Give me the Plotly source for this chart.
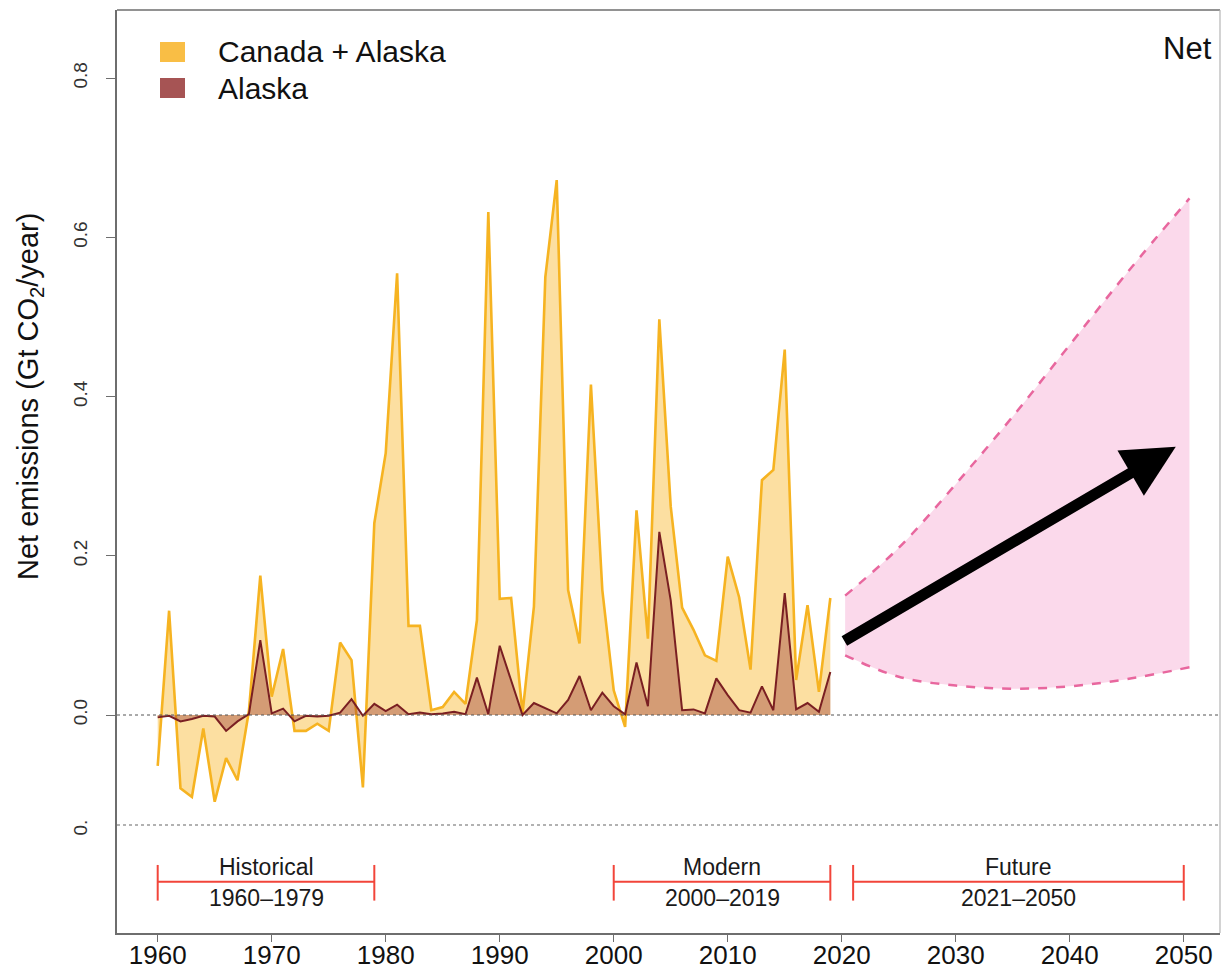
import plotly.graph_objects as go

# ---- annual net emissions, Gt CO2 / year ----
years = list(range(1960, 2020))
canada_alaska = [
    -0.064, 0.131, -0.092, -0.103, -0.017, -0.109, -0.054, -0.082, 0.005, 0.175,
    0.023, 0.083, -0.020, -0.020, -0.011, -0.020, 0.091, 0.069, -0.091, 0.241,
    0.329, 0.555, 0.112, 0.112, 0.006, 0.010, 0.029, 0.014, 0.119, 0.632,
    0.146, 0.147, 0.002, 0.136, 0.550, 0.672, 0.157, 0.090, 0.415, 0.157,
    0.031, -0.015, 0.257, 0.096, 0.497, 0.262, 0.135, 0.107, 0.075, 0.068,
    0.199, 0.148, 0.057, 0.295, 0.308, 0.459, 0.044, 0.138, 0.029, 0.147,
]
alaska = [
    -0.003, -0.001, -0.008, -0.005, -0.001, -0.002, -0.020, -0.008, 0.001, 0.094,
    0.002, 0.008, -0.008, -0.001, -0.002, -0.001, 0.003, 0.020, -0.001, 0.014,
    0.005, 0.013, 0.001, 0.003, 0.001, 0.002, 0.004, 0.001, 0.047, 0.001,
    0.087, 0.042, 0.000, 0.015, 0.008, 0.002, 0.019, 0.049, 0.006, 0.028,
    0.011, 0.001, 0.066, 0.011, 0.230, 0.144, 0.006, 0.007, 0.002, 0.046,
    0.025, 0.006, 0.003, 0.036, 0.006, 0.153, 0.007, 0.015, 0.004, 0.054,
]

# ---- projected range of net emissions ----
future_years = [2020.3, 2025, 2030, 2035, 2040, 2045, 2050.5]
future_upper = [0.150, 0.210, 0.290, 0.375, 0.465, 0.555, 0.649]
future_lower = [0.075, 0.048, 0.037, 0.033, 0.036, 0.045, 0.060]

# trend arrow (start / end)
trend_years = [2020.1, 2049.3]
trend_values = [0.092, 0.337]

# ---- reference periods ----
period_names = ["Historical", "Modern", "Future"]
period_start = [1960, 2000, 2021]
period_end = [1979, 2019, 2050]

x_ticks = list(range(1960, 2051, 10))
y_ticks = [0.0, 0.2, 0.4, 0.6, 0.8]
y_ticktext = ["0.0", "0.2", "0.4", "0.6", "0.8"]

# ---- styling ----
FONT = "Liberation Sans, Arial, sans-serif"
C_ORANGE_LINE = "#F6B321"
C_ORANGE_FILL = "rgba(248,178,30,0.42)"
C_AK_LINE = "#7A1F22"
C_AK_FILL = "rgba(140,40,40,0.36)"
C_PINK_FILL = "#FBD9EB"
C_PINK_LINE = "#E8679E"
C_RED = "#F2453A"
C_AXIS = "#6E6E6E"

W, H = 1224, 974
M_L, M_R, M_T, M_B = 117, 4, 10, 41
PLOT_W = W - M_L - M_R
PLOT_H = H - M_T - M_B
SPLIT = 825  # pixel row where the lower panel begins


def px(xp):
    return (xp - M_L) / PLOT_W


def py(yp):
    return (H - M_B - yp) / PLOT_H


split_frac = py(SPLIT)

fig = go.Figure()

# projected band
fig.add_trace(go.Scatter(
    x=future_years, y=future_lower, mode="lines",
    line=dict(color=C_PINK_LINE, width=2.5, dash="dash", shape="spline"),
    hoverinfo="skip", showlegend=False, xaxis="x", yaxis="y"))
fig.add_trace(go.Scatter(
    x=future_years, y=future_upper, mode="lines", fill="tonexty", fillcolor=C_PINK_FILL,
    line=dict(color=C_PINK_LINE, width=2.5, dash="dash", shape="spline"),
    hoverinfo="skip", showlegend=False, xaxis="x", yaxis="y"))

# Canada + Alaska
fig.add_trace(go.Scatter(
    x=years, y=canada_alaska, mode="lines", fill="tozeroy", fillcolor=C_ORANGE_FILL,
    line=dict(color=C_ORANGE_LINE, width=2.6), name="Canada + Alaska", showlegend=False,
    xaxis="x", yaxis="y"))
# Alaska
fig.add_trace(go.Scatter(
    x=years, y=alaska, mode="lines", fill="tozeroy", fillcolor=C_AK_FILL,
    line=dict(color=C_AK_LINE, width=2), name="Alaska", showlegend=False,
    xaxis="x", yaxis="y"))

# period bars in the lower panel
BAR_Y, CAP_LO, CAP_HI = -0.525, -0.70, -0.37
bx, by = [], []
for s, e in zip(period_start, period_end):
    bx += [s, e, None, s, s, None, e, e, None]
    by += [BAR_Y, BAR_Y, None, CAP_LO, CAP_HI, None, CAP_LO, CAP_HI, None]
fig.add_trace(go.Scatter(
    x=bx, y=by, mode="lines", line=dict(color=C_RED, width=2), hoverinfo="skip",
    showlegend=False, xaxis="x", yaxis="y2"))

annotations = []
for name, s, e in zip(period_names, period_start, period_end):
    mid = (s + e) / 2
    annotations.append(dict(x=mid, y=-0.385, xref="x", yref="y2", text=name, showarrow=False,
                            yanchor="middle", font=dict(family=FONT, size=23, color="#1a1a1a")))
    annotations.append(dict(x=mid, y=-0.675, xref="x", yref="y2", text=f"{s}\u2013{e}", showarrow=False,
                            yanchor="middle", font=dict(family=FONT, size=23, color="#1a1a1a")))

# trend arrow
annotations.append(dict(
    x=trend_years[1], y=trend_values[1], ax=trend_years[0], ay=trend_values[0],
    xref="x", yref="y", axref="x", ayref="y", text="", showarrow=True,
    arrowhead=2, arrowsize=0.95, arrowwidth=11, arrowcolor="black", standoff=0))

# axis title
annotations.append(dict(
    x=px(30), y=py(397), xref="paper", yref="paper", textangle=-90, showarrow=False,
    xanchor="center", yanchor="middle",
    text="Net emissions (Gt CO<sub>2</sub>/year)", font=dict(family=FONT, size=29, color="#111")))

# corner label
annotations.append(dict(
    x=px(1214), y=py(48), xref="paper", yref="paper", xanchor="right", yanchor="middle",
    showarrow=False, text="Net", font=dict(family=FONT, size=31, color="#111")))

# legend
legend_items = [("Canada + Alaska", "#F9BE45", 52), ("Alaska", "#A65454", 88)]
shapes = []
for label, col, yc in legend_items:
    shapes.append(dict(type="rect", xref="paper", yref="paper",
                       x0=px(160), x1=px(185), y0=py(yc + 10), y1=py(yc - 10),
                       fillcolor=col, line=dict(width=0)))
    annotations.append(dict(x=px(216), y=py(yc), xref="paper", yref="paper", xanchor="left",
                            yanchor="middle", showarrow=False, text=label,
                            font=dict(family=FONT, size=30, color="#111")))

# zero line and panel boundary (dotted)
shapes.append(dict(type="line", xref="paper", yref="y", x0=0, x1=1, y0=0, y1=0,
                   line=dict(color="#555", width=1, dash="dot")))
shapes.append(dict(type="line", xref="paper", yref="paper", x0=0, x1=1, y0=split_frac, y1=split_frac,
                   line=dict(color="#666", width=1.2, dash="dot")))
# frame: top and right edges
shapes.append(dict(type="line", xref="paper", yref="paper", x0=0, x1=1, y0=1, y1=1,
                   line=dict(color=C_AXIS, width=1.5)))
shapes.append(dict(type="line", xref="paper", yref="paper", x0=1, x1=1, y0=0, y1=1,
                   line=dict(color="#B5B5B5", width=1.2)))

fig.update_layout(
    width=W, height=H,
    margin=dict(l=M_L, r=M_R, t=M_T, b=M_B, autoexpand=False),
    paper_bgcolor="white", plot_bgcolor="white",
    showlegend=False,
    font=dict(family=FONT, color="#111"),
    xaxis=dict(
        anchor="y2", range=[1956.43, 2053.18], tickvals=x_ticks, ticks="outside", ticklen=7,
        tickcolor=C_AXIS, showline=True, linecolor=C_AXIS, linewidth=1.5, showgrid=False,
        zeroline=False, automargin=False, ticklabelstandoff=-9,
        tickfont=dict(family=FONT, size=26, color="#111")),
    yaxis=dict(
        domain=[split_frac, 1], range=[-0.1382, 0.8857], tickvals=y_ticks, ticktext=y_ticktext,
        tickangle=-90, ticks="outside", ticklen=9, tickcolor=C_AXIS, showline=True,
        linecolor=C_AXIS, linewidth=1.5, showgrid=False, zeroline=False, automargin=False,
        ticklabelstandoff=12, tickfont=dict(family=FONT, size=19, color="#333")),
    yaxis2=dict(
        domain=[0, split_frac], range=[-1, 0], tickvals=[-0.05], ticktext=["0."], tickangle=-90,
        ticks="", showline=True, linecolor=C_AXIS, linewidth=1.5, showgrid=False, zeroline=False,
        automargin=False, ticklabelstandoff=21, tickfont=dict(family=FONT, size=19, color="#333")),
    shapes=shapes,
    annotations=annotations,
)

fig.write_html("out.html")
